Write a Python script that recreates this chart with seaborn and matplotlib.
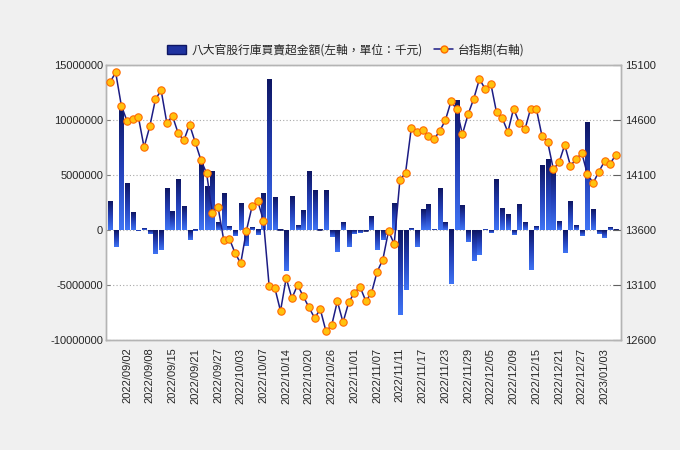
import numpy as np
import pandas as pd
import matplotlib
matplotlib.use("Agg")
import matplotlib.pyplot as plt
import seaborn as sns
from matplotlib.colors import LinearSegmentedColormap
from matplotlib.lines import Line2D
from matplotlib.patches import Patch

# ---- data ----
tick_labels = ["2022/09/02", "2022/09/08", "2022/09/15", "2022/09/21", "2022/09/27",
               "2022/10/03", "2022/10/07", "2022/10/14", "2022/10/20", "2022/10/26",
               "2022/11/01", "2022/11/07", "2022/11/11", "2022/11/17", "2022/11/23",
               "2022/11/29", "2022/12/05", "2022/12/09", "2022/12/15", "2022/12/21",
               "2022/12/27", "2023/01/03"]

# 八大官股行庫買賣超 (千元), one per trading day
bank_net = [2580000, -1520000, 11200000, 4270000, 1550000, -60000, 180000, -330000,
            -2150000, -1790000, 3730000, 1640000, 4550000, 2180000, -880000, -120000,
            6000000, 3910000, 5360000, 640000, 3360000, 360000, -520000, 2450000,
            -1420000, 270000, -480000, 3360000, 13640000, 2910000, -30000, -3700000,
            3090000, 450000, 1730000, 5360000, 3550000, -30000, 3550000, -610000,
            -1970000, 640000, -1520000, -330000, -240000, -50000, 1270000, -1790000,
            -880000, -450000, 2450000, -7700000, -5420000, 180000, -1520000, 1820000,
            2360000, 90000, 3730000, 640000, -4910000, 11730000, 2270000, -1060000,
            -2790000, -2240000, 90000, -240000, 4550000, 1910000, 1450000, -420000,
            2360000, 640000, -3610000, 330000, 5820000, 6450000, 5520000, 730000,
            -2060000, 2550000, 450000, -520000, 9730000, 1820000, -330000, -700000,
            270000, -20000]

# 台指期 close
taiex_fut = [14942, 15033, 14730, 14591, 14606, 14627, 14352, 14542, 14788, 14870,
             14573, 14636, 14479, 14415, 14558, 14397, 14236, 14115, 13755, 13812,
             13512, 13521, 13391, 13297, 13594, 13815, 13864, 13685, 13091, 13073,
             12864, 13164, 12979, 13100, 12997, 12897, 12800, 12879, 12679, 12733,
             12952, 12761, 12942, 13030, 13082, 12955, 13027, 13221, 13330, 13591,
             13473, 14052, 14121, 14524, 14494, 14509, 14455, 14424, 14500, 14597,
             14770, 14697, 14470, 14652, 14794, 14973, 14882, 14930, 14670, 14618,
             14491, 14703, 14576, 14515, 14703, 14703, 14455, 14400, 14152, 14215,
             14373, 14185, 14242, 14300, 14106, 14027, 14130, 14224, 14203, 14285]

df = pd.DataFrame({"day": np.arange(len(bank_net)), "net": bank_net, "fut": taiex_fut})

sns.set_theme(style="white")
plt.rcParams["font.family"] = ["Liberation Sans", "Noto Sans CJK TC", "DejaVu Sans"]

fig = plt.figure(figsize=(6.8, 4.5), dpi=100, facecolor="#f0f0f0")
ax = fig.add_axes([106 / 680, 110 / 450, 515 / 680, 275 / 450])
ax.set_facecolor("white")

# bars, then repaint each one with a vertical gradient (dark top -> bright bottom)
sns.barplot(data=df, x="day", y="net", ax=ax, width=0.72, color="#1f3fbf",
            saturation=1, native_scale=True, zorder=2)
bar_cmap = LinearSegmentedColormap.from_list("bar", ["#0e1663", "#2340b8", "#3f74f5"])
grad = np.linspace(0, 1, 64).reshape(-1, 1)
for p in ax.patches:
    x0, w = p.get_x(), p.get_width()
    y0, h = p.get_y(), p.get_height()
    lo, hi = min(y0, y0 + h), max(y0, y0 + h)
    if hi - lo < 1:
        continue
    ax.imshow(grad, extent=(x0, x0 + w, lo, hi), aspect="auto", cmap=bar_cmap,
              origin="upper", zorder=2.5, interpolation="bicubic")
    p.set_visible(False)
    if hi - lo < 60000:
        ax.plot([x0, x0 + w], [lo, lo], color="#0e1663", lw=1.2, zorder=2.6)

ax.set_xlim(-0.7, 89.9)
ax.set_ylim(-10000000, 15000000)
ax.set_yticks(range(-10000000, 15000001, 5000000))
ax.set_yticklabels([str(v) for v in range(-10000000, 15000001, 5000000)])
ax.yaxis.grid(True, linestyle=(0, (1, 2)), color="#a8a8a8", lw=0.8)
ax.set_axisbelow(True)
ax.set_xticks(range(3, 90, 4))
ax.set_xticklabels(tick_labels, rotation=90)
ax.set_xlabel("")
ax.set_ylabel("")
ax.tick_params(axis="x", length=4, width=0.8, color="#808080", pad=1.5, labelsize=8)
ax.tick_params(axis="y", length=3, width=0.8, color="#808080", pad=2, labelsize=8,
               direction="in")

# right axis: 台指期
ax2 = ax.twinx()
sns.lineplot(data=df, x="day", y="fut", ax=ax2, color="#1c1c84", lw=1.1,
             marker="o", markersize=5.3, markerfacecolor="#ffc20e",
             markeredgecolor="#ff6a00", markeredgewidth=0.8, zorder=3)
ax2.set_ylim(12600, 15100)
ax2.set_yticks(range(12600, 15101, 500))
ax2.set_ylabel("")
ax2.tick_params(axis="y", length=6, width=0.8, color="#606060", pad=3, labelsize=8,
                direction="in")
ax.set_xlim(-0.7, 89.9)

for a in (ax, ax2):
    for s in a.spines.values():
        s.set_color("#b4b4b4")
        s.set_linewidth(1)

handles = [Patch(facecolor="#1f33a0", edgecolor="#0e1663"),
           Line2D([], [], color="#1c1c84", lw=1.1, marker="o", markersize=5,
                  markerfacecolor="#ffc20e", markeredgecolor="#ff6a00")]
fig.legend(handles, ["八大官股行庫買賣超金額(左軸，單位：千元)", "台指期(右軸)"],
           loc="center", bbox_to_anchor=(346 / 680, 1 - 50 / 450), ncol=2,
           frameon=False, handlelength=1.6, handletextpad=0.4, columnspacing=1.0,
           prop={"family": ["Noto Sans CJK TC", "DejaVu Sans"], "size": 8.5})

fig.savefig("out.png", dpi=100, facecolor=fig.get_facecolor())
